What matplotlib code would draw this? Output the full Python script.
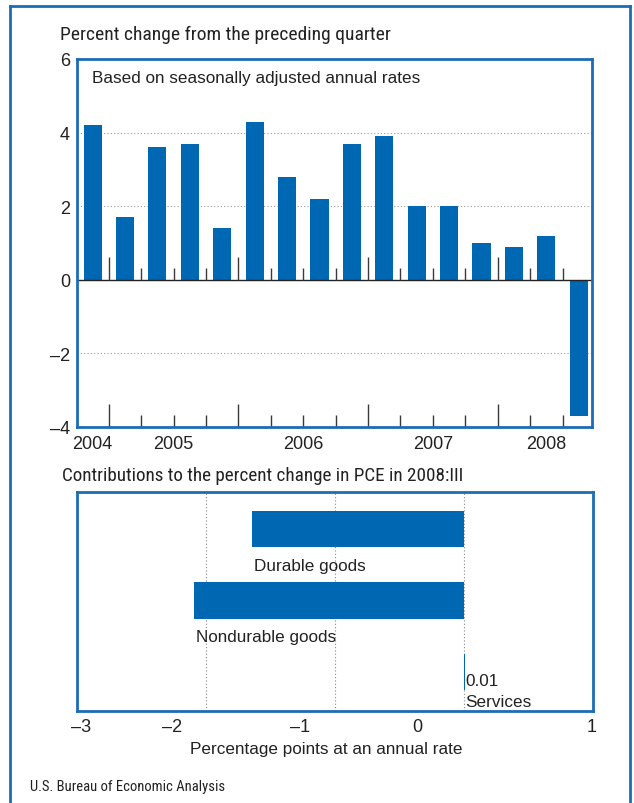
import matplotlib
matplotlib.use("Agg")
import matplotlib.pyplot as plt
from matplotlib import font_manager
from matplotlib.lines import Line2D

# pick a narrow face for the headings if one is installed
def pick(names):
    for n in names:
        try:
            font_manager.findfont(n, fallback_to_default=False)
            return n
        except Exception:
            pass
    return "DejaVu Sans"

SANS = pick(["Liberation Sans", "Arial", "DejaVu Sans"])
NARROW = pick(["Liberation Sans Narrow", "Roboto Condensed", SANS])
plt.rcParams["font.family"] = [SANS, "DejaVu Sans"]

# data
quarters = ["2004:IV",
            "2005:I", "2005:II", "2005:III", "2005:IV",
            "2006:I", "2006:II", "2006:III", "2006:IV",
            "2007:I", "2007:II", "2007:III", "2007:IV",
            "2008:I", "2008:II", "2008:III"]
growth = [4.2, 1.7, 3.6, 3.7, 1.4, 4.3, 2.8, 2.2, 3.7, 3.9, 2.0, 2.0, 1.0, 0.9, 1.2, -3.7]
years = ["2004", "2005", "2006", "2007", "2008"]
ytick_vals = [-4, -2, 0, 2, 4, 6]

components = ["Durable goods", "Nondurable goods", "Services"]
contrib = [-1.64, -2.09, 0.01]
xtick_labels = ["\u20133", "\u20132", "\u20131", "0", "1"]

BLUE = "#0067b2"
FRAME = "#1c6db6"
TICK = "#3a3a3a"
TXT = "#222222"

fig = plt.figure(figsize=(6.34, 8.04), dpi=100)

# outer frame (open at the bottom)
for xs, ys in [([0.0158, 0.0158], [0.0, 0.9913]),
               ([0.0158, 0.9937], [0.9913, 0.9913]),
               ([0.9937, 0.9937], [0.9913, 0.0])]:
    fig.add_artist(Line2D(xs, ys, transform=fig.transFigure, color=FRAME, lw=2.0))

# ---- top panel
ax = fig.add_axes([0.1215, 0.4677, 0.8123, 0.4577])
x = list(range(len(growth)))
ax.bar(x, growth, width=0.56, color=BLUE, zorder=3)
ax.set_xlim(-0.48, 15.41)
ax.set_ylim(-4, 6)
for v in [4, 2, -2]:
    ax.axhline(v, color="#999999", lw=0.8, ls=(0, (1, 2)), zorder=1)
ax.axhline(0, color="#222222", lw=1.0, zorder=4)

# quarter separators, long ones at year boundaries
yr = [q.split(":")[0] for q in quarters]
for i in range(len(quarters) - 1):
    long = yr[i] != yr[i + 1]
    h = 0.63 if long else 0.32
    ax.vlines(i + 0.5, 0, h, color=TICK, lw=1.0, zorder=4)
    ax.vlines(i + 0.5, -4, -4 + h, color=TICK, lw=1.0, zorder=4)

ypos = []
for y in years:
    idx = [i for i, q in enumerate(quarters) if q.startswith(y)]
    ypos.append(sum(idx) / len(idx))
ax.set_xticks(ypos)
ax.set_xticklabels(years, fontsize=13, color=TXT)
ax.set_yticks(ytick_vals)
ax.set_yticklabels([str(v).replace("-", "\u2013") for v in ytick_vals], fontsize=13, color=TXT)
ax.tick_params(axis="x", length=0, pad=6)
ax.tick_params(axis="y", length=0, pad=5)
for s in ax.spines.values():
    s.set_color(FRAME)
    s.set_linewidth(2.0)
    s.set_zorder(6)
ax.text(0.03, 0.95, "Based on seasonally adjusted annual rates", transform=ax.transAxes,
        fontsize=12.3, color=TXT, va="center", ha="left")

fig.text(60 / 634, 1 - 35 / 804, "Percent change from the preceding quarter",
         family=[NARROW, "DejaVu Sans"], fontsize=14, color=TXT, va="center", ha="left")

# ---- bottom panel
bx = fig.add_axes([0.1215, 0.1144, 0.8139, 0.2724])
yy = list(range(len(components)))
bx.barh(yy, contrib, height=0.51, color=BLUE, lw=0, zorder=3)
bx.set_xlim(-3, 1)
bx.set_ylim(2.55, -0.52)
for v in range(-3, 2):
    bx.axvline(v, color="#888888", lw=0.8, ls=(0, (1, 2)), zorder=1)
for i, (name, val) in enumerate(zip(components, contrib)):
    if abs(val) < 0.1:
        bx.text(val, i + 0.12, "%.2f" % val, fontsize=12.3, color=TXT, va="center", ha="left")
        bx.text(val, i + 0.42, name, fontsize=12.3, color=TXT, va="center", ha="left")
    else:
        bx.text(min(val, 0) + 0.01, i + 0.51, name, fontsize=12.3, color=TXT,
                va="center", ha="left")
bx.set_yticks([])
bx.set_xticks([-2.97, -2.26, -1.27, -0.36, 0.99])
bx.set_xticklabels(xtick_labels, fontsize=13, color=TXT)
bx.tick_params(axis="x", length=0, pad=5)
for s in bx.spines.values():
    s.set_color(FRAME)
    s.set_linewidth(2.0)
    s.set_zorder(6)
bx.text(-1.07, -0.17, "Percentage points at an annual rate", transform=bx.get_xaxis_transform(),
        fontsize=12.3, color=TXT, ha="center", va="center")

fig.text(62 / 634, 1 - 476 / 804, "Contributions to the percent change in PCE in 2008:III",
         family=[NARROW, "DejaVu Sans"], fontsize=13.8, color=TXT, va="center", ha="left")
fig.text(30 / 634, 1 - 787 / 804, "U.S. Bureau of Economic Analysis",
         family=[NARROW, "DejaVu Sans"], fontsize=10.5, color=TXT, va="center", ha="left")

fig.savefig("out.png", dpi=100)
